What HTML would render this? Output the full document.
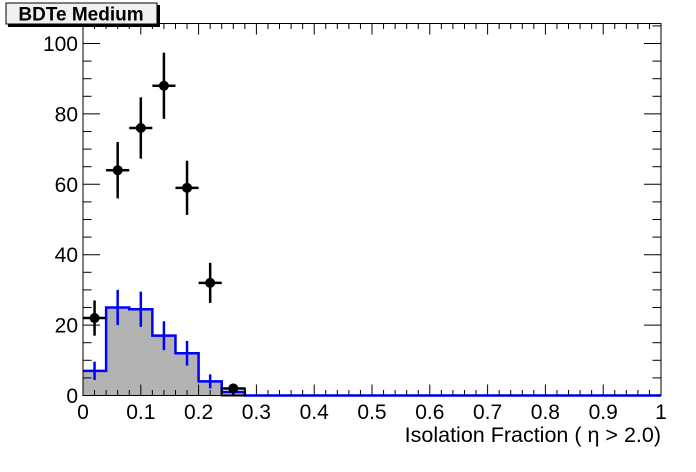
<!DOCTYPE html><html><head><style>body{margin:0;background:#fff}svg{display:block}</style></head><body>
<svg width="696" height="472" xmlns="http://www.w3.org/2000/svg" font-family="Liberation Sans, sans-serif">
<rect x="0" y="0" width="696" height="472" fill="#fff"/>
<g id="g"></g>
<rect x="83" y="23.5" width="578" height="372" fill="none" stroke="#000" stroke-width="1"/>
<rect x="8" y="5" width="152" height="22" fill="#000"/>
<rect x="6" y="3" width="151" height="21" fill="#f0f0f0" stroke="#000"/>
<text x="81" y="20.5" font-size="19" font-weight="bold" text-anchor="middle">BDTe Medium</text>
<text x="661" y="442" font-size="21.5" text-anchor="end">Isolation Fraction (  η &gt; 2.0)</text>
</svg>
<script>
const g=document.getElementById('g');const NS='http://www.w3.org/2000/svg';
function X(v){return 83+578*v}function Y(v){return 395.5-3.52*v}
function el(t,a,txt){const e=document.createElementNS(NS,t);for(const k in a)e.setAttribute(k,a[k]);if(txt!==undefined)e.textContent=txt;g.appendChild(e);return e}
const h=[7,25,24.5,17,12,4,1];
let d='M'+X(0)+','+Y(0);h.forEach((v,i)=>{d+=' L'+X(i*0.04)+','+Y(v)+' L'+X((i+1)*0.04)+','+Y(v)});d+=' L'+X(0.28)+','+Y(0)+' Z';
el('path',{d:d,fill:'#b3b3b3',stroke:'none'});
let d2='M'+X(0)+','+Y(h[0]);h.forEach((v,i)=>{if(i>0)d2+=' L'+X(i*0.04)+','+Y(v);d2+=' L'+X((i+1)*0.04)+','+Y(v)});d2+=' L'+X(0.28)+','+Y(0)+' L'+X(1)+','+Y(0);
el('path',{d:d2,fill:'none',stroke:'#0000ff','stroke-width':2.5});
const he=[2.6,5,5,4.1,3.5,2,1];
h.forEach((v,i)=>{const x=X(i*0.04+0.02);el('line',{x1:x,x2:x,y1:Y(v-he[i]),y2:Y(v+he[i]),stroke:'#0000ff','stroke-width':2.5})});
el('rect',{x:X(0.24),y:Y(2),width:X(0.28)-X(0.24),height:Y(0)-Y(2),fill:'none',stroke:'#000','stroke-width':2});
for(let i=0;i<=50;i++){const x=X(i/50);const L=i%5==0?11:5.5;
el('line',{x1:x,x2:x,y1:395.5,y2:395.5-L,stroke:'#000'});el('line',{x1:x,x2:x,y1:23.5,y2:23.5+L,stroke:'#000'});
if(i%5==0){const v=i/50;el('text',{x:x,y:419,'font-size':21,'text-anchor':'middle'},v==0?'0':v==1?'1':v.toFixed(1))}}
for(let v=0;v<=105;v+=5){const y=Y(v);const L=v%20==0?17:8.5;
el('line',{x1:83,x2:83+L,y1:y,y2:y,stroke:'#000'});el('line',{x1:661,x2:661-L,y1:y,y2:y,stroke:'#000'});
if(v%20==0)el('text',{x:78,y:y+7.5,'font-size':21,'text-anchor':'end'},String(v))}
const p=[[22,5],[64,8],[76,8.7],[88,9.4],[59,7.7],[32,5.7],[2,1.4]];
p.forEach(([v,e],i)=>{const c=0.02+0.04*i,x=X(c),y=Y(v);
el('line',{x1:X(c-0.02),x2:X(c+0.02),y1:y,y2:y,stroke:'#000','stroke-width':2.5});
el('line',{x1:x,x2:x,y1:Y(v-e),y2:Y(v+e),stroke:'#000','stroke-width':2.5});
el('circle',{cx:x,cy:y,r:5,fill:'#000'})});
</script>
</body></html>
